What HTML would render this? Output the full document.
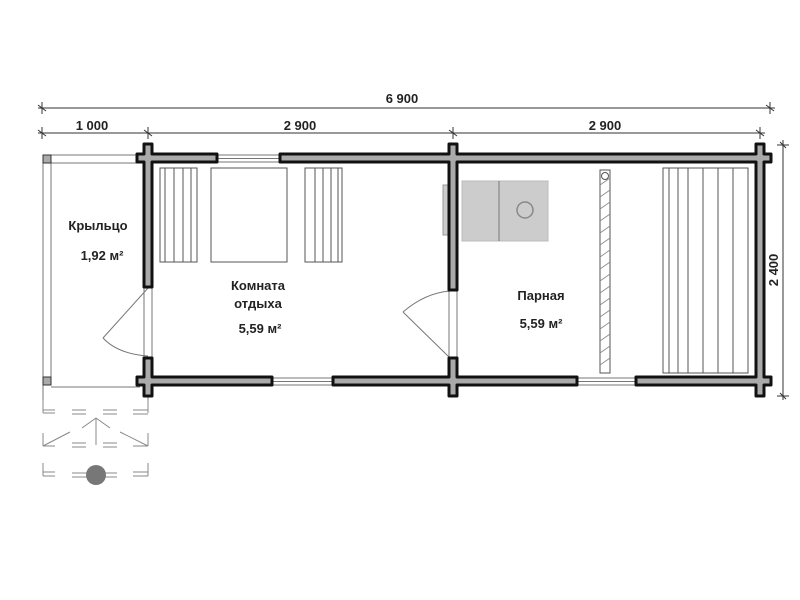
<!DOCTYPE html>
<html><head><meta charset="utf-8"><style>html,body{margin:0;padding:0;background:#fff}svg{display:block}</style></head><body>
<svg width="800" height="600" viewBox="0 0 800 600" xmlns="http://www.w3.org/2000/svg" font-family="Liberation Sans, sans-serif">
<rect width="800" height="600" fill="#fff"/>
<!-- dimensions -->
<g stroke="#333" stroke-width="1" fill="none">
<line x1="38" y1="108" x2="775" y2="108"/>
<line x1="42" y1="102" x2="42" y2="114"/><line x1="770" y1="102" x2="770" y2="114"/>
<line x1="38" y1="105" x2="46" y2="111"/><line x1="766" y1="105" x2="774" y2="111"/>
<line x1="38" y1="133" x2="765" y2="133"/>
<line x1="42" y1="127" x2="42" y2="139"/><line x1="148" y1="127" x2="148" y2="139"/><line x1="453" y1="127" x2="453" y2="139"/><line x1="760" y1="127" x2="760" y2="139"/>
<line x1="38" y1="130" x2="46" y2="136"/><line x1="144" y1="130" x2="152" y2="136"/><line x1="449" y1="130" x2="457" y2="136"/><line x1="756" y1="130" x2="764" y2="136"/>
<line x1="783" y1="140" x2="783" y2="400"/>
<line x1="777" y1="145" x2="789" y2="145"/><line x1="777" y1="396" x2="789" y2="396"/>
<line x1="780" y1="142" x2="786" y2="148"/><line x1="780" y1="393" x2="786" y2="399"/>
</g>
<g font-size="13" font-weight="bold" fill="#222" text-anchor="middle">
<text x="402" y="103">6 900</text>
<text x="92" y="130">1 000</text>
<text x="300" y="130">2 900</text>
<text x="605" y="130">2 900</text>
<text transform="translate(778,270) rotate(-90)">2 400</text>
</g>
<!-- porch -->
<g stroke="#777" stroke-width="1" fill="none">
<line x1="47" y1="155" x2="140" y2="155"/><line x1="47" y1="163" x2="140" y2="163"/>
<line x1="43" y1="163" x2="43" y2="400"/><line x1="51" y1="163" x2="51" y2="377"/>
<line x1="51" y1="387" x2="140" y2="387"/>
<line x1="148" y1="387" x2="148" y2="400"/>
<line x1="144" y1="287" x2="144" y2="358"/><line x1="152" y1="287" x2="152" y2="358"/>
<line x1="449" y1="290" x2="449" y2="358"/><line x1="457" y1="290" x2="457" y2="358"/>
<line x1="148" y1="288" x2="103" y2="338"/>
<path d="M103 338 Q118 354 148 356"/>
<line x1="450" y1="358" x2="403" y2="312"/>
<path d="M403 312 Q425 293 450 291"/>
<!-- windows -->
<rect x="217" y="155" width="63" height="7"/><line x1="217" y1="158.5" x2="280" y2="158.5"/>
<rect x="272" y="378" width="61" height="7"/><line x1="272" y1="381.5" x2="333" y2="381.5"/>
<rect x="577" y="378" width="59" height="7"/><line x1="577" y1="381.5" x2="636" y2="381.5"/>
<!-- steps -->
<g stroke="#888">
<line x1="43" y1="400" x2="43" y2="413"/><line x1="148" y1="400" x2="148" y2="413"/>
<line x1="43" y1="413" x2="55" y2="413"/><line x1="43" y1="410" x2="55" y2="410"/>
<line x1="72" y1="410" x2="86" y2="410"/><line x1="72" y1="414" x2="86" y2="414"/>
<line x1="103" y1="410" x2="117" y2="410"/><line x1="103" y1="414" x2="117" y2="414"/>
<line x1="133" y1="410" x2="148" y2="410"/><line x1="133" y1="414" x2="148" y2="414"/>
<line x1="96" y1="418" x2="96" y2="445"/><line x1="82" y1="428" x2="96" y2="418"/><line x1="110" y1="428" x2="96" y2="418"/>
<line x1="43" y1="433" x2="43" y2="446"/><line x1="148" y1="433" x2="148" y2="446"/>
<line x1="43" y1="446" x2="70" y2="432"/><line x1="148" y1="446" x2="120" y2="432"/>
<line x1="43" y1="446" x2="55" y2="446"/><line x1="72" y1="443" x2="86" y2="443"/><line x1="72" y1="447" x2="86" y2="447"/>
<line x1="103" y1="443" x2="117" y2="443"/><line x1="103" y1="447" x2="117" y2="447"/><line x1="133" y1="446" x2="148" y2="446"/>
<line x1="43" y1="463" x2="43" y2="476"/><line x1="148" y1="463" x2="148" y2="476"/>
<line x1="43" y1="476" x2="55" y2="476"/><line x1="43" y1="472" x2="55" y2="472"/>
<line x1="72" y1="473" x2="117" y2="473"/><line x1="72" y1="477" x2="117" y2="477"/>
<line x1="133" y1="472" x2="148" y2="472"/><line x1="133" y1="476" x2="148" y2="476"/>
</g>
</g>
<circle cx="96" cy="475" r="10" fill="#777"/>
<rect x="43" y="155" width="8" height="8" fill="#aaa" stroke="#333"/>
<rect x="43" y="377" width="8" height="8" fill="#aaa" stroke="#333"/>
<!-- furniture -->
<g stroke="#555" stroke-width="1" fill="#fff">
<rect x="160" y="168" width="37" height="94"/>
<line x1="165" y1="168" x2="165" y2="262"/><line x1="174" y1="168" x2="174" y2="262"/><line x1="183" y1="168" x2="183" y2="262"/><line x1="191" y1="168" x2="191" y2="262"/>
<rect x="211" y="168" width="76" height="94"/>
<rect x="305" y="168" width="37" height="94"/>
<line x1="315" y1="168" x2="315" y2="262"/><line x1="323" y1="168" x2="323" y2="262"/><line x1="331" y1="168" x2="331" y2="262"/><line x1="338" y1="168" x2="338" y2="262"/>
<rect x="443" y="185" width="5" height="50" fill="#ccc" stroke="#999"/>
<rect x="462" y="181" width="86" height="60" fill="#ccc" stroke="#bbb"/>
<line x1="499" y1="181" x2="499" y2="241" stroke="#777"/>
<circle cx="525" cy="210" r="8" fill="#ccc" stroke="#888" stroke-width="1.5"/>
<rect x="600" y="170" width="10" height="203"/>
<circle cx="605" cy="176" r="3.5"/>
<rect x="663" y="168" width="85" height="205"/>
<line x1="669" y1="168" x2="669" y2="373"/><line x1="678" y1="168" x2="678" y2="373"/><line x1="688" y1="168" x2="688" y2="373"/><line x1="703" y1="168" x2="703" y2="373"/><line x1="718" y1="168" x2="718" y2="373"/><line x1="733" y1="168" x2="733" y2="373"/>
</g>
<g stroke="#888" stroke-width="0.8">
<path d="M600 185 L610 178 M600 197 L610 190 M600 209 L610 202 M600 221 L610 214 M600 233 L610 226 M600 245 L610 238 M600 257 L610 250 M600 269 L610 262 M600 281 L610 274 M600 293 L610 286 M600 305 L610 298 M600 317 L610 310 M600 329 L610 322 M600 341 L610 334 M600 353 L610 346 M600 365 L610 358"/>
</g>
<!-- walls -->
<g fill="#aaa" stroke="#111" stroke-width="3" stroke-linejoin="round">
<path d="M137 154 H144 V144 H152 V154 H217 V162 H152 V287 H144 V162 H137 Z"/>
<path d="M280 154 H449 V144 H457 V154 H756 V144 H764 V154 H771 V162 H764 V377 H771 V385 H764 V396 H756 V385 H636 V377 H756 V162 H457 V290 H449 V162 H280 Z"/>
<path d="M144 358 H152 V377 H272 V385 H152 V396 H144 V385 H137 V377 H144 Z"/>
<path d="M449 358 H457 V377 H577 V385 H457 V396 H449 V385 H333 V377 H449 Z"/>
</g>
<!-- labels -->
<g font-size="13" font-weight="bold" fill="#222" text-anchor="middle">
<text x="98" y="230">Крыльцо</text>
<text x="102" y="260">1,92 м²</text>
<text x="258" y="290">Комната</text>
<text x="258" y="308">отдыха</text>
<text x="260" y="333">5,59 м²</text>
<text x="541" y="300">Парная</text>
<text x="541" y="328">5,59 м²</text>
</g>
</svg>
</body></html>
